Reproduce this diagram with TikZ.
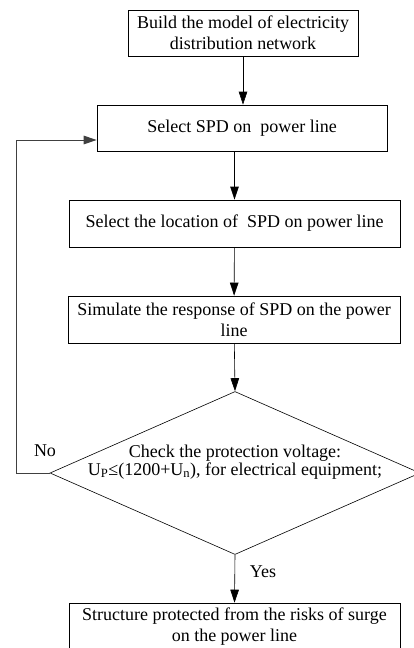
\documentclass[tikz,border=0pt]{standalone}
\usepackage{fontspec}
\setmainfont{Liberation Serif}
\usetikzlibrary{arrows.meta,shapes.geometric}

\begin{document}
\begin{tikzpicture}[x=1pt,y=-1pt,
        stepbox/.style={draw,line width=0.6pt,align=center,inner sep=0pt},
        arr/.style={-{Triangle[length=13pt,width=8.5pt]},line width=0.6pt}]
        \useasboundingbox (0,0) rectangle (414,648);
        \begin{scope}[every node/.style={stepbox,font=\fontsize{18}{21}\selectfont}]
            \node [minimum width=230pt,minimum height=46pt] (build) at (243,33) {Build the model of electricity\\distribution network};
            \node [minimum width=290pt,minimum height=46pt] (select) at (242,128) {Select SPD on \ power line};
            \node [minimum width=331pt,minimum height=47pt] (loc) at (234.5,223.5) {Select the location of \ SPD on power line};
            \node [minimum width=332pt,minimum height=47pt] (sim) at (234,319.5) {Simulate the response of SPD on the power\\line};
            \node [minimum width=331pt,minimum height=47pt] (safe) at (234.5,626.5) {Structure protected from the risks of surge\\on the power line};
        \end{scope}
        \node [draw,diamond,line width=0.6pt,inner sep=0pt,minimum width=370pt,minimum height=163pt] (check) at (235,473) {};
        \node [align=center,inner sep=0pt,font=\fontsize{18}{18}\selectfont] (checktext) at (235,462) {Check the protection voltage:\\U\textsubscript{P}≤(1200+U\textsubscript{n}), for electrical equipment;};
        \node [font=\fontsize{18}{21}\selectfont] (no) at (45,451) {No};
        \node [font=\fontsize{18}{21}\selectfont] (yes) at (263,572) {Yes};

        \draw[arr] (build) -- (build |- select.north);
        \draw[arr] (select.south -| loc.north) -- (loc.north);
        \draw[arr] (loc) -- (sim);
        \draw[arr] (sim) -- (check.north);
        \draw[arr] (check.south) -- (safe.north);
        \draw[arr,line width=0.9pt,black!75] (check.west) -- ++(-33,0) |- ([yshift=-12pt]select.west);
    \end{tikzpicture}
\end{document}
